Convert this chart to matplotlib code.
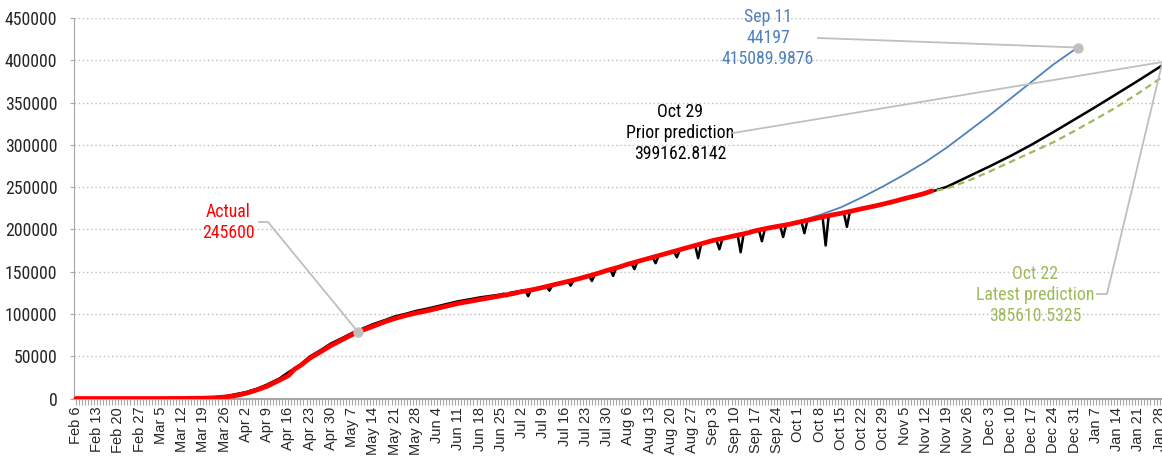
import matplotlib
matplotlib.use("Agg")
import matplotlib.pyplot as plt
from matplotlib.lines import Line2D
from matplotlib.transforms import IdentityTransform
import numpy as np

plt.rcParams["font.family"] = "Liberation Sans"
NARROW = ["Roboto Condensed", "Liberation Sans"]

# x values are day numbers counted from Feb 6 2020
actual_days = [0, 7, 14, 21, 28, 35, 42, 46, 49, 52, 56, 60, 63, 67, 70, 72, 74, 77,
               81, 84, 88, 91, 95, 98, 102, 105, 109, 112, 116, 119, 123, 126, 130,
               133, 137, 140, 144, 147, 151, 154, 158, 161, 165, 168, 172, 175, 179,
               182, 186, 189, 193, 196, 200, 203, 207, 210, 214, 217, 221, 224, 228,
               231, 235, 238, 242, 245, 249, 252, 256, 259, 263, 266, 270, 273, 277,
               280, 282]
actual_vals = [0, 0, 0, 0, 0, 100, 400, 900, 1800, 3000, 6000, 10500, 14500, 21500,
               27000, 34500, 39000, 47500, 56000, 62500, 70000, 75500, 81500, 85500,
               91000, 94500, 98500, 101000, 104000, 106500, 110000, 112500, 115000,
               117000, 119500, 121500, 124000, 126500, 129000, 131500, 135000, 137500,
               141000, 144000, 148000, 151500, 155500, 159000, 163000, 166000, 170000,
               173000, 177000, 180000, 184000, 187000, 190000, 192500, 195500, 198500,
               201500, 203500, 206000, 208500, 211500, 214000, 217000, 219000, 222000,
               224500, 227500, 230000, 233500, 236500, 240000, 243000, 245600]

# Oct 29 prior prediction (reported data with weekly dips, then forecast)
prior_days = [0, 28, 35, 42, 49, 56, 60, 63, 67, 70, 74, 77, 81, 84, 88, 91, 95, 98,
              102, 105, 109, 112, 116, 119, 123, 126, 130, 133, 137, 140, 141, 142,
              143, 147, 148, 149, 150, 155, 156, 157, 162, 163, 164, 169, 170, 171,
              176, 177, 178, 183, 184, 185, 190, 191, 192, 197, 198, 199, 204, 205,
              206, 211, 212, 213, 218, 219, 220, 225, 226, 227, 232, 233, 234, 239,
              240, 241, 246, 247, 248, 253, 254, 255, 259, 266, 273, 280, 287, 294,
              301, 308, 315, 322, 329, 336, 343, 350, 357, 360]
prior_vals = [0, 0, 200, 600, 2500, 7500, 12000, 16500, 23500, 31000, 40000, 49500,
              58000, 65000, 72000, 77500, 83500, 88000, 93000, 97000, 100500, 103500,
              106500, 109000, 112500, 115000, 117500, 119500, 121500, 123000, 124000,
              121000, 125000, 127500, 128000, 121000, 129000, 133000, 127500, 134000,
              139000, 133500, 140000, 145500, 139000, 147000, 153000, 145000, 154500,
              160000, 153000, 162000, 167000, 160000, 169000, 174000, 167000, 176000,
              181000, 166000, 183000, 187500, 176500, 189000, 193500, 173000, 195000,
              199500, 186000, 200500, 204500, 191000, 205500, 209500, 195500, 210500,
              214500, 181000, 216000, 219500, 203000, 221000, 224500, 230000, 236000,
              242500, 250500, 262500, 274500, 287000, 300500, 315000, 330000, 345000,
              360500, 376000, 392000, 399162.8142]

# Sep 11 prediction
sep_days = [224, 231, 238, 245, 252, 259, 266, 273, 280, 287, 294, 301, 308, 315,
            322, 330]
sep_vals = [198500, 203500, 209500, 217000, 226000, 238000, 251000, 265000, 280000,
            297000, 316000, 335000, 355000, 375000, 395000, 415089.9876]

# Oct 22 latest prediction
latest_days = [280, 282, 287, 294, 301, 308, 315, 322, 329, 336, 343, 350, 357, 360]
latest_vals = [243000, 244800, 248500, 257500, 268500, 280000, 291500, 303000,
               316500, 330500, 345000, 361000, 378000, 385610.5325]

tick_labels = ["Feb 6", "Feb 13", "Feb 20", "Feb 27", "Mar 5", "Mar 12", "Mar 19",
               "Mar 26", "Apr 2", "Apr 9", "Apr 16", "Apr 23", "Apr 30", "May 7",
               "May 14", "May 21", "May 28", "Jun 4", "Jun 11", "Jun 18", "Jun 25",
               "Jul 2", "Jul 9", "Jul 16", "Jul 23", "Jul 30", "Aug 6", "Aug 13",
               "Aug 20", "Aug 27", "Sep 3", "Sep 10", "Sep 17", "Sep 24", "Oct 1",
               "Oct 8", "Oct 15", "Oct 22", "Oct 29", "Nov 5", "Nov 12", "Nov 19",
               "Nov 26", "Dec 3", "Dec 10", "Dec 17", "Dec 24", "Dec 31", "Jan 7",
               "Jan 14", "Jan 21", "Jan 28"]

RED = "#FF0000"
BLUE = "#4F81BD"
GREEN = "#9BBB59"
GRAY = "#BFBFBF"
W, H = 1162, 462

fig = plt.figure(figsize=(W / 100, H / 100), dpi=100)
ax = fig.add_axes([74 / W, 1 - 398.5 / H, 1 - 74 / W, (398.5 - 18) / H])

ax.plot(sep_days, sep_vals, color=BLUE, lw=1.3, zorder=2)
ax.plot(prior_days, prior_vals, color="black", lw=1.8, zorder=3)
ax.plot(latest_days, latest_vals, color=GREEN, lw=1.6, dashes=(3, 2), zorder=3)
ax.plot(actual_days, actual_vals, color=RED, lw=3.4, zorder=4,
        solid_capstyle="round", solid_joinstyle="round")

ax.set_xlim(-0.6, 357.8)
ax.set_ylim(0, 450000)

# axes styling
ax.yaxis.set_major_locator(plt.MultipleLocator(50000))
ax.yaxis.set_major_formatter(plt.FuncFormatter(lambda v, _: f"{v:.0f}"))
ax.grid(axis="y", color=GRAY, lw=1, linestyle=(0, (1, 2)))
ax.set_axisbelow(True)
for s in ["top", "right"]:
    ax.spines[s].set_visible(False)
ax.spines["left"].set_color("#A6A6A6")
ax.spines["bottom"].set_color("#A6A6A6")
ax.spines["bottom"].set_linewidth(1.5)
ax.tick_params(axis="y", length=3, color="#A6A6A6", pad=9, labelsize=12.8,
               labelcolor="#262626")
for lab in ax.get_yticklabels():
    lab.set_family(NARROW)

ax.set_xticks(np.arange(len(tick_labels)) * 7)
ax.set_xticklabels(tick_labels, rotation=90, fontsize=10.5, color="#262626")
ax.set_xticks(np.arange(0, 358), minor=True)
ax.tick_params(axis="x", which="both", length=4, color="#A6A6A6", width=0.8, pad=2)

# annotations (drawn in pixel space)
tr = IdentityTransform()


def px(x, y):
    return x, H - y


def leader(points, target):
    xs = [px(*p)[0] for p in points] + [target[0]]
    ys = [px(*p)[1] for p in points] + [target[1]]
    fig.add_artist(Line2D(xs, ys, transform=tr, color=GRAY, lw=1.3, zorder=5))


def label(x, y, text, color):
    fig.text(x / W, 1 - y / H, text, ha="center", va="center", color=color,
             fontsize=12.8, family=NARROW, linespacing=1.22)


sep_end = ax.transData.transform((sep_days[-1], sep_vals[-1]))
prior_end = ax.transData.transform((prior_days[-1], prior_vals[-1]))
mark_day = 93
mark_pt = ax.transData.transform((mark_day, np.interp(mark_day, actual_days, actual_vals)))

leader([(818, 38)], sep_end)
leader([(733, 133)], prior_end)
leader([(1097, 294), (1107, 294)], px(1162, 64))
leader([(259, 222), (268, 222)], mark_pt)

for pt in (sep_end, mark_pt):
    fig.add_artist(Line2D([pt[0]], [pt[1]], transform=tr, marker="o", ms=6.5,
                          color=GRAY, lw=0, zorder=6))

label(768, 38, "Sep 11\n44197\n415089.9876", BLUE)
label(680, 133, "Oct 29\nPrior prediction\n399162.8142", "black")
label(1035, 295, "Oct 22\nLatest prediction\n385610.5325", GREEN)
label(228, 222.5, "Actual\n245600", RED)

fig.savefig("out.png", dpi=100)
